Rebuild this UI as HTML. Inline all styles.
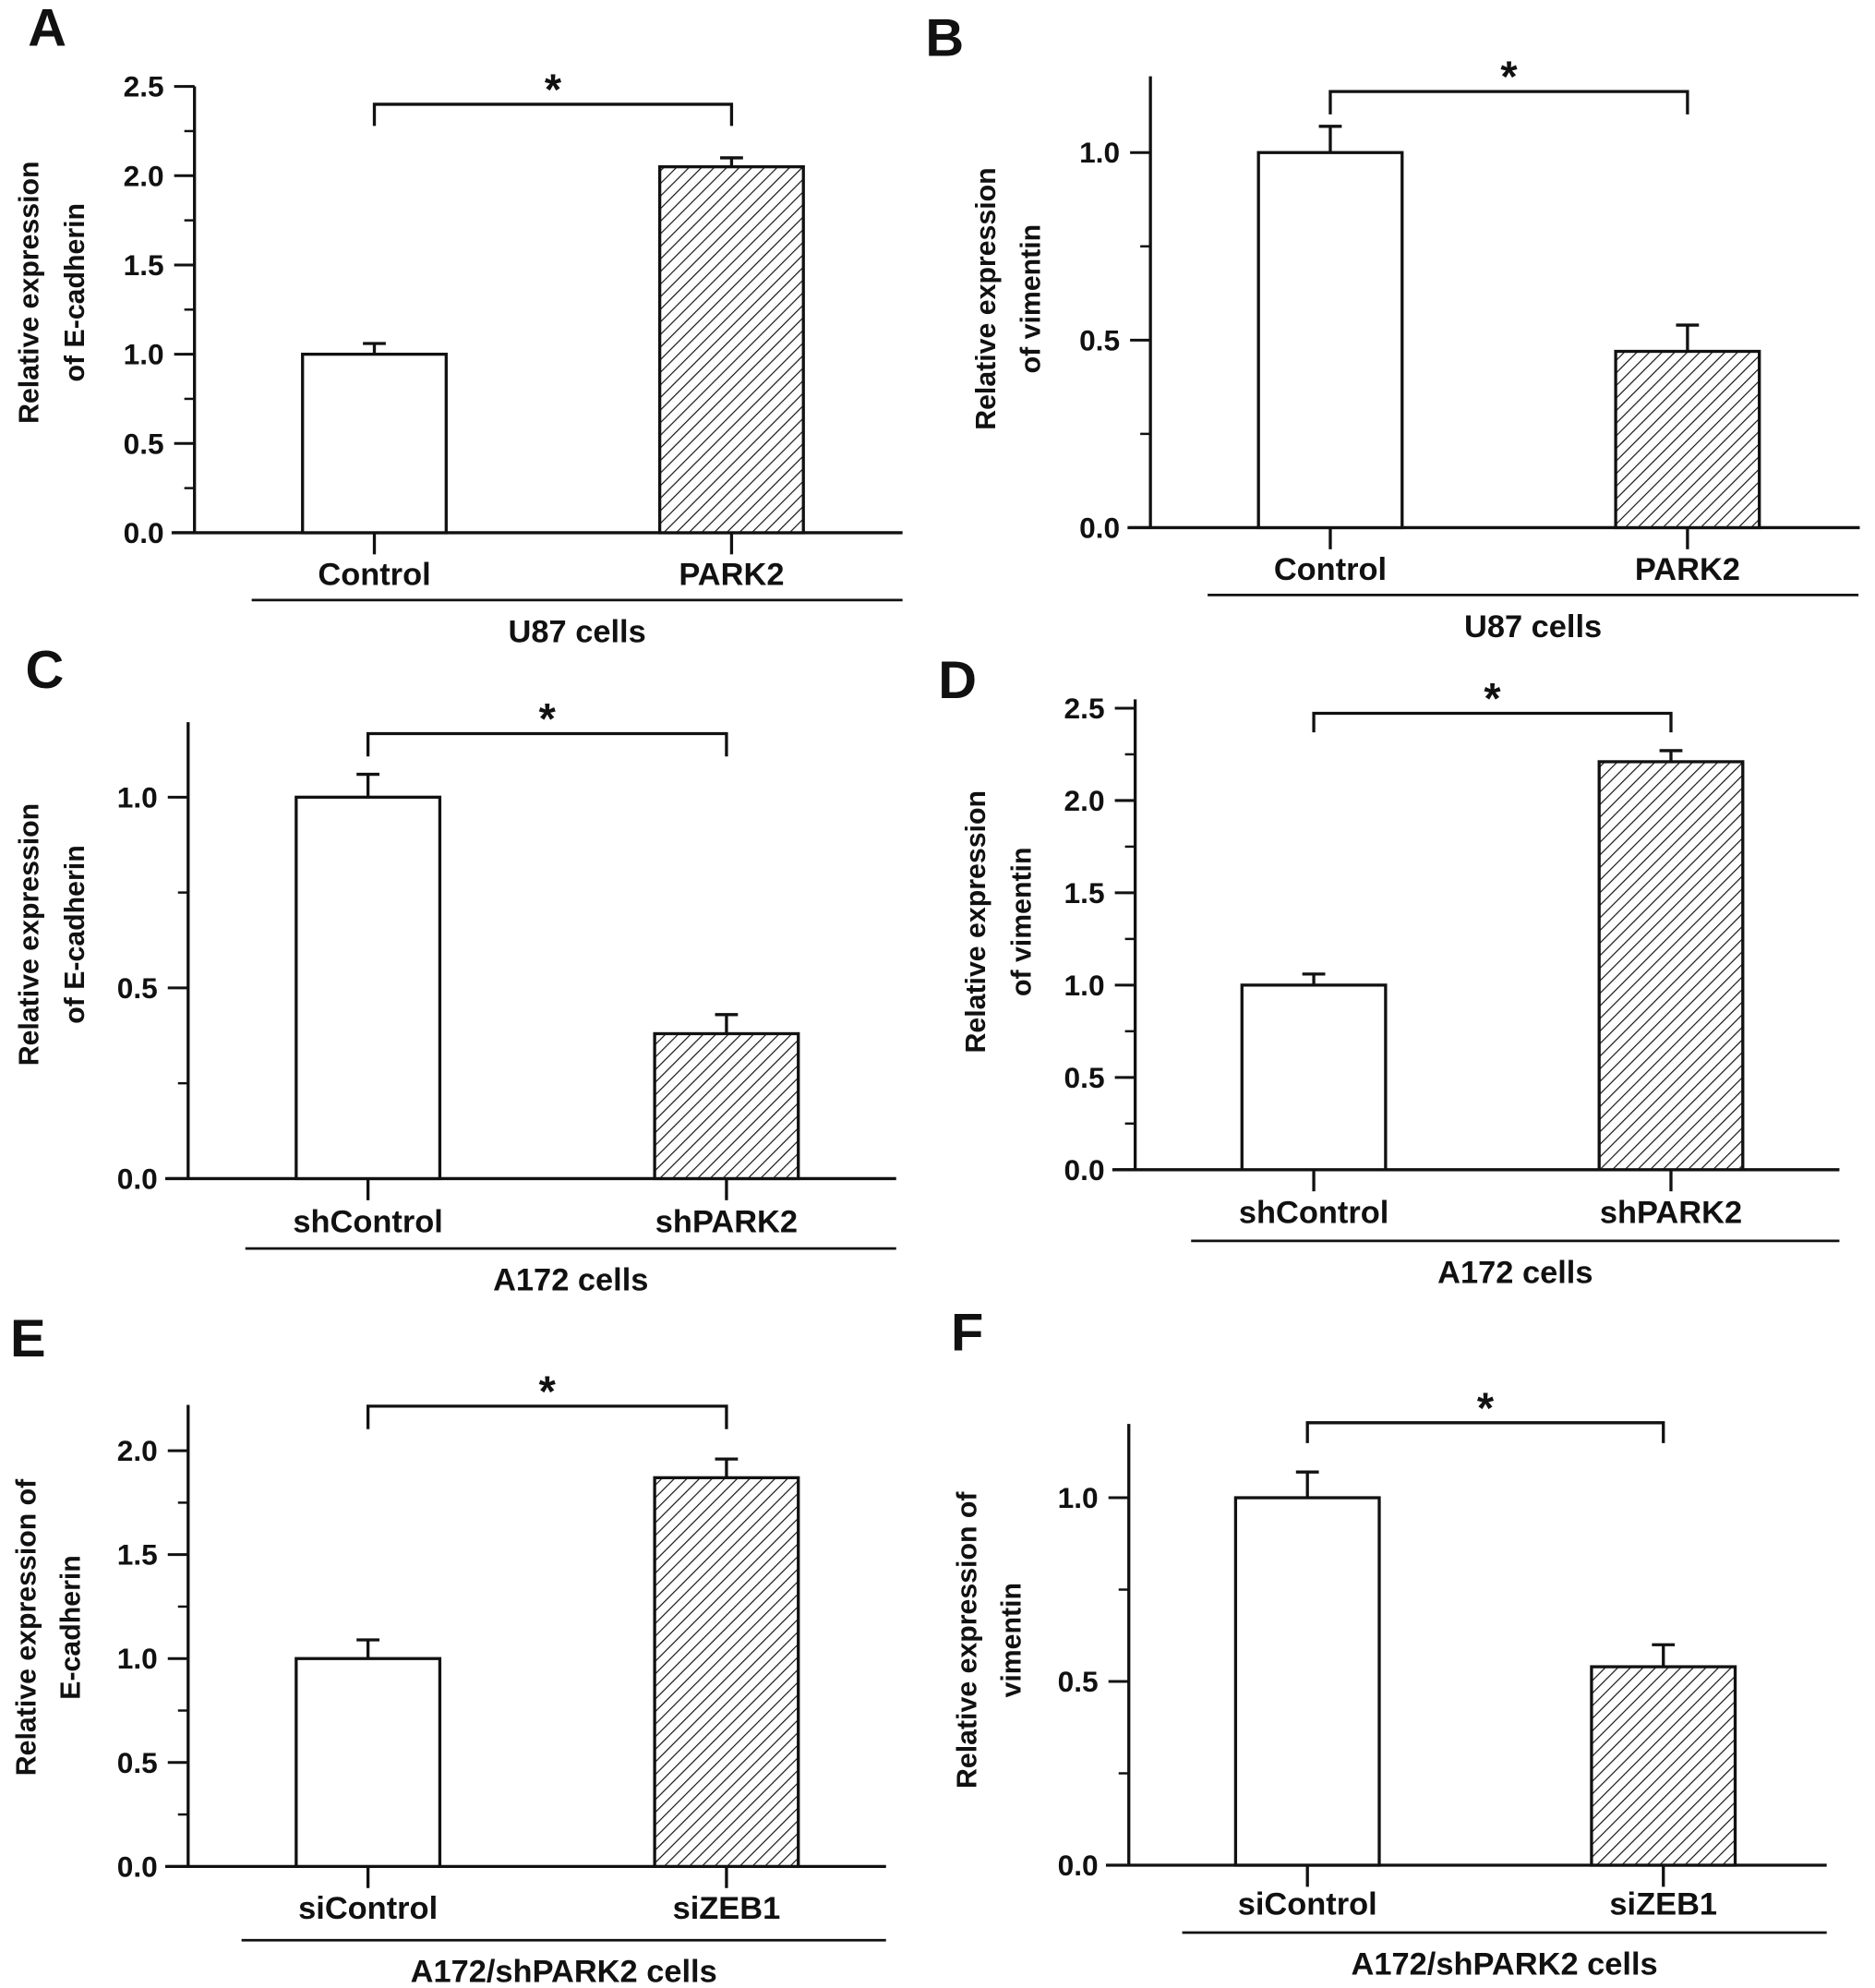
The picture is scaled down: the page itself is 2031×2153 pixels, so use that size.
<!DOCTYPE html>
<html><head><meta charset="utf-8"><style>
html,body{margin:0;padding:0;background:#fff}
svg{display:block}
text{font-family:"Liberation Sans",Arial,sans-serif;font-weight:bold;fill:#111}
</style></head><body>
<svg id="fig" width="2031" height="2153" viewBox="0 0 1475 1563.6" xmlns="http://www.w3.org/2000/svg">
<defs><pattern id="hatch" patternUnits="userSpaceOnUse" width="7" height="7" patternTransform="rotate(45)"><rect width="7" height="7" fill="#fff"/><line x1="0" y1="0" x2="0" y2="7" stroke="#111" stroke-width="1.7"/></pattern></defs>
</svg>
<script>
const panelLetters=['A','B','C','D','E','F'];
const catA=['Control','PARK2'],catB=['Control','PARK2'],catC=['shControl','shPARK2'],catD=['shControl','shPARK2'],catE=['siControl','siZEB1'],catF=['siControl','siZEB1'];
const valA=[1.0,2.05],valB=[1.0,0.47],valC=[1.0,0.38],valD=[1.0,2.21],valE=[1.0,1.87],valF=[1.0,0.54];
const errA=[0.06,0.05],errB=[0.07,0.07],errC=[0.06,0.05],errD=[0.06,0.06],errE=[0.09,0.09],errF=[0.07,0.06];
const ticksA=[0,0.5,1.0,1.5,2.0,2.5],ticksB=[0,0.5,1.0],ticksC=[0,0.5,1.0],ticksD=[0,0.5,1.0,1.5,2.0,2.5],ticksE=[0,0.5,1.0,1.5,2.0],ticksF=[0,0.5,1.0];
const groups=['U87 cells','U87 cells','A172 cells','A172 cells','A172/shPARK2 cells','A172/shPARK2 cells'];
const titles=[['Relative expression','of E-cadherin'],['Relative expression','of vimentin'],['Relative expression','of E-cadherin'],['Relative expression','of vimentin'],['Relative expression of','E-cadherin'],['Relative expression of','vimentin']];
// layout (pixel geometry, not data)
const L=[
 {ax:153,y0:419,ppu:140.4,ytop:68,b:[238,519],xe:710,lab:[22,5],tx:[22,58],ty:230,ul:[198,710],brY:82,brDrop:99,catY:460,ulY:472,gY:505},
 {ax:905,y0:415,ppu:295,ytop:60,b:[990,1271],xe:1463,lab:[728,13],tx:[775,810],ty:235,ul:[950,1462],brY:72,brDrop:90,catY:456,ulY:468,gY:501},
 {ax:148,y0:927,ppu:300,ytop:568,b:[233,515],xe:705,lab:[20,510],tx:[22,58],ty:735,ul:[193,705],brY:577,brDrop:595,catY:969,ulY:982,gY:1015},
 {ax:893,y0:920,ppu:145.2,ytop:550,b:[977,1258],xe:1447,lab:[738,518],tx:[767,803],ty:725,ul:[937,1447],brY:561,brDrop:576,catY:962,ulY:976,gY:1009},
 {ax:148,y0:1468,ppu:163.5,ytop:1105,b:[233,515],xe:697,lab:[8,1036],tx:[20,55],ty:1280,ul:[190,697],brY:1106,brDrop:1124,catY:1509,ulY:1526,gY:1559},
 {ax:888,y0:1467,ppu:289,ytop:1120,b:[972,1252],xe:1437,lab:[748,1031],tx:[760,795],ty:1290,ul:[930,1437],brY:1119,brDrop:1135,catY:1506,ulY:1520,gY:1553}
];
const cats=[catA,catB,catC,catD,catE,catF],vals=[valA,valB,valC,valD,valE,valF],errs=[errA,errB,errC,errD,errE,errF],ticks=[ticksA,ticksB,ticksC,ticksD,ticksE,ticksF];
const svg=document.getElementById('fig');const NS='http://www.w3.org/2000/svg';
function mk(t,a,p){const e=document.createElementNS(NS,t);for(const k in a)e.setAttribute(k,a[k]);(p||svg).appendChild(e);return e;}
const BW=113;
L.forEach((g,i)=>{
 const grp=mk('g',{});
 
 
 const y=v=>g.y0-v*g.ppu;
 const ln=(x1,y1,x2,y2,w)=>mk('line',{x1,y1,x2,y2,stroke:'#111','stroke-width':w||2.4},grp);
 const pl=mk('text',{x:g.lab[0],y:g.lab[1]+31,'font-size':42},grp);pl.textContent=panelLetters[i];
 
 
 const ya=ln(g.ax,g.ytop,g.ax,g.y0);
 
 
 const xa=ln(g.ax-18,g.y0,g.xe,g.y0);
 
 
 const tk=ticks[i];const step=tk[1]-tk[0];
 for(let v=0;y(v)>=g.ytop-0.5;v+=step/2){ln(g.ax-8,y(v),g.ax,y(v),1.8);}
 tk.forEach(v=>{ln(g.ax-16,y(v),g.ax,y(v),2.2);const t=mk('text',{x:g.ax-24,y:y(v)+8,'font-size':23,'text-anchor':'end'},grp);t.textContent=v.toFixed(1);
  
  });
 const tt=mk('text',{'font-size':22,'text-anchor':'middle',transform:`rotate(-90)`},grp);
 
 
 titles[i].forEach((s,k)=>{const ts=mk('tspan',{x:-g.ty,y:g.tx[k]+8},tt);ts.textContent=s;});
 cats[i].forEach((c,k)=>{
  const x0=g.b[k],cx=x0+BW/2,top=y(vals[i][k]);
  const r=mk('rect',{x:x0,y:top,width:BW,height:g.y0-top,fill:k?'url(#hatch)':'#fff',stroke:'#111','stroke-width':2.4},grp);
  
  
  const et=y(vals[i][k]+errs[i][k]);
  ln(cx,top,cx,et,2.4);ln(cx-9,et,cx+9,et,2.4);
  ln(cx,g.y0,cx,g.y0+17,2.4);
  const t=mk('text',{x:cx,y:g.catY,'font-size':25,'text-anchor':'middle'},grp);t.textContent=c;
  
  
 });
 const ul=ln(g.ul[0],g.ulY,g.ul[1],g.ulY,2);
 
 
 const gt=mk('text',{x:(g.ul[0]+g.ul[1])/2,y:g.gY,'font-size':25,'text-anchor':'middle'},grp);gt.textContent=groups[i];
 
 
 const c0=g.b[0]+BW/2,c1=g.b[1]+BW/2;
 const br=mk('polyline',{points:`${c0},${g.brDrop} ${c0},${g.brY} ${c1},${g.brY} ${c1},${g.brDrop}`,fill:'none',stroke:'#111','stroke-width':2.4},grp);
 
 
 const st=mk('text',{x:(c0+c1)/2,y:g.brY,'font-size':34,'text-anchor':'middle'},grp);st.textContent='*';
 
 
});
</script>
</body></html>
